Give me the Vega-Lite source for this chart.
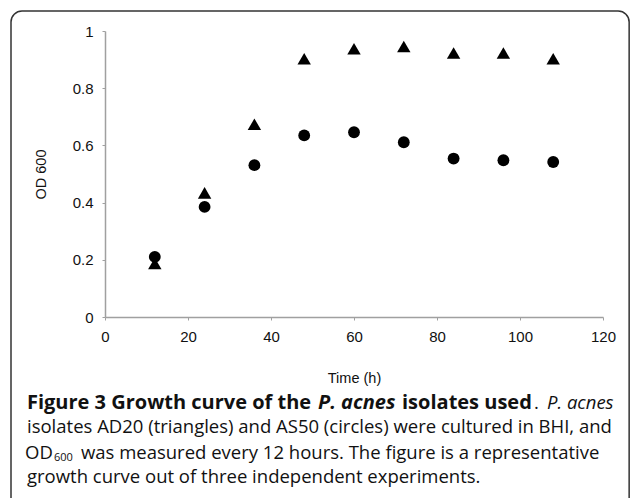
{
  "$schema": "https://vega.github.io/schema/vega-lite/v6.json",
  "width": 498,
  "height": 286,
  "autosize": {"type": "none"},
  "padding": {"left": 105, "top": 31, "right": 27, "bottom": 181},
  "background": "white",
  "config": {
    "view": {"stroke": null},
    "axis": {
      "grid": false,
      "domainColor": "#a0a0a0",
      "domainWidth": 1.5,
      "tickColor": "#a0a0a0",
      "tickWidth": 1,
      "tickSize": 3,
      "labelFont": "Liberation Sans",
      "labelFontSize": 15,
      "labelColor": "#111111",
      "titleFont": "Liberation Sans",
      "titleFontSize": 14.5,
      "titleFontWeight": "normal",
      "titleColor": "#111111"
    }
  },
  "datasets": {
    "growth": [
      {"time": 12, "isolate": "AD20", "od": 0.187},
      {"time": 24, "isolate": "AD20", "od": 0.434},
      {"time": 36, "isolate": "AD20", "od": 0.674},
      {"time": 48, "isolate": "AD20", "od": 0.903},
      {"time": 60, "isolate": "AD20", "od": 0.938},
      {"time": 72, "isolate": "AD20", "od": 0.946},
      {"time": 84, "isolate": "AD20", "od": 0.923},
      {"time": 96, "isolate": "AD20", "od": 0.923},
      {"time": 108, "isolate": "AD20", "od": 0.903},
      {"time": 12, "isolate": "AS50", "od": 0.21},
      {"time": 24, "isolate": "AS50", "od": 0.385},
      {"time": 36, "isolate": "AS50", "od": 0.531},
      {"time": 48, "isolate": "AS50", "od": 0.635},
      {"time": 60, "isolate": "AS50", "od": 0.646},
      {"time": 72, "isolate": "AS50", "od": 0.611},
      {"time": 84, "isolate": "AS50", "od": 0.554},
      {"time": 96, "isolate": "AS50", "od": 0.548},
      {"time": 108, "isolate": "AS50", "od": 0.542}
    ]
  },
  "layer": [
    {
      "data": {"name": "growth"},
      "mark": {"type": "point", "filled": true, "opacity": 1, "strokeWidth": 0},
      "encoding": {
        "x": {
          "field": "time", "type": "quantitative", "title": "Time (h)",
          "scale": {"domain": [0, 120], "nice": false, "zero": false},
          "axis": {"values": [0, 20, 40, 60, 80, 100, 120], "format": "d", "labelPadding": 9, "titlePadding": 27, "labelFlush": false}
        },
        "y": {
          "field": "od", "type": "quantitative", "title": "OD 600",
          "scale": {"domain": [0, 1], "nice": false, "zero": false},
          "axis": {"values": [0, 0.2, 0.4, 0.6, 0.8, 1], "format": "~f", "labelPadding": 9, "titlePadding": 24}
        },
        "shape": {
          "field": "isolate", "type": "nominal",
          "scale": {"domain": ["AD20", "AS50"], "range": ["triangle-up", "circle"]},
          "legend": null
        },
        "size": {
          "field": "isolate", "type": "nominal",
          "scale": {"domain": ["AD20", "AS50"], "range": [180, 140]},
          "legend": null
        },
        "color": {"value": "#000000"}
      }
    },
    {
      "data": {"values": [{}]},
      "mark": {"type": "rect", "cornerRadius": 11, "fill": null, "stroke": "#333333", "strokeWidth": 1.5, "clip": false},
      "encoding": {
        "x": {"datum": -22.65, "type": "quantitative", "title": "Time (h)"},
        "x2": {"datum": 126.3},
        "y": {"datum": 1.07, "type": "quantitative", "title": "OD 600"},
        "y2": {"datum": -0.682}
      }
    },
    {
      "data": {"values": [{}]},
      "mark": {"type": "text", "align": "left", "baseline": "alphabetic", "font": "Open Sans", "fontSize": 20, "fontWeight": "bold", "color": "#111111", "clip": false, "text": "Figure 3 Growth curve of the"},
      "encoding": {"x": {"datum": -18.8, "type": "quantitative", "title": "Time (h)"}, "y": {"datum": -0.32, "type": "quantitative", "title": "OD 600"}}
    },
    {
      "data": {"values": [{}]},
      "mark": {"type": "text", "align": "left", "baseline": "alphabetic", "font": "Open Sans", "fontSize": 20, "fontWeight": "bold", "fontStyle": "italic", "color": "#111111", "clip": false, "text": "P. acnes"},
      "encoding": {"x": {"datum": 51.33, "type": "quantitative", "title": "Time (h)"}, "y": {"datum": -0.32, "type": "quantitative", "title": "OD 600"}}
    },
    {
      "data": {"values": [{}]},
      "mark": {"type": "text", "align": "left", "baseline": "alphabetic", "font": "Open Sans", "fontSize": 20, "fontWeight": "bold", "color": "#111111", "clip": false, "text": "isolates used"},
      "encoding": {"x": {"datum": 71.57, "type": "quantitative", "title": "Time (h)"}, "y": {"datum": -0.32, "type": "quantitative", "title": "OD 600"}}
    },
    {
      "data": {"values": [{}]},
      "mark": {"type": "text", "align": "left", "baseline": "alphabetic", "font": "Open Sans", "fontSize": 18.5, "color": "#111111", "clip": false, "text": "."},
      "encoding": {"x": {"datum": 103.4, "type": "quantitative", "title": "Time (h)"}, "y": {"datum": -0.32, "type": "quantitative", "title": "OD 600"}}
    },
    {
      "data": {"values": [{}]},
      "mark": {"type": "text", "align": "left", "baseline": "alphabetic", "font": "Open Sans", "fontSize": 18.5, "fontStyle": "italic", "color": "#111111", "clip": false, "text": "P. acnes"},
      "encoding": {"x": {"datum": 106.5, "type": "quantitative", "title": "Time (h)"}, "y": {"datum": -0.32, "type": "quantitative", "title": "OD 600"}}
    },
    {
      "data": {"values": [{}]},
      "mark": {"type": "text", "align": "left", "baseline": "alphabetic", "font": "Open Sans", "fontSize": 18.5, "color": "#111111", "clip": false, "text": "isolates AD20 (triangles) and AS50 (circles) were cultured in BHI, and"},
      "encoding": {"x": {"datum": -18.8, "type": "quantitative", "title": "Time (h)"}, "y": {"datum": -0.407, "type": "quantitative", "title": "OD 600"}}
    },
    {
      "data": {"values": [{}]},
      "mark": {"type": "text", "align": "left", "baseline": "alphabetic", "font": "Open Sans", "fontSize": 18.5, "color": "#111111", "clip": false, "text": "OD"},
      "encoding": {"x": {"datum": -19.28, "type": "quantitative", "title": "Time (h)"}, "y": {"datum": -0.495, "type": "quantitative", "title": "OD 600"}}
    },
    {
      "data": {"values": [{}]},
      "mark": {"type": "text", "align": "left", "baseline": "alphabetic", "font": "Open Sans", "fontSize": 11, "color": "#111111", "clip": false, "text": "600"},
      "encoding": {"x": {"datum": -12.29, "type": "quantitative", "title": "Time (h)"}, "y": {"datum": -0.505, "type": "quantitative", "title": "OD 600"}}
    },
    {
      "data": {"values": [{}]},
      "mark": {"type": "text", "align": "left", "baseline": "alphabetic", "font": "Open Sans", "fontSize": 18.5, "color": "#111111", "clip": false, "text": "was measured every 12 hours. The figure is a representative"},
      "encoding": {"x": {"datum": -5.8, "type": "quantitative", "title": "Time (h)"}, "y": {"datum": -0.495, "type": "quantitative", "title": "OD 600"}}
    },
    {
      "data": {"values": [{}]},
      "mark": {"type": "text", "align": "left", "baseline": "alphabetic", "font": "Open Sans", "fontSize": 18.5, "color": "#111111", "clip": false, "text": "growth curve out of three independent experiments."},
      "encoding": {"x": {"datum": -18.8, "type": "quantitative", "title": "Time (h)"}, "y": {"datum": -0.58, "type": "quantitative", "title": "OD 600"}}
    }
  ]
}
